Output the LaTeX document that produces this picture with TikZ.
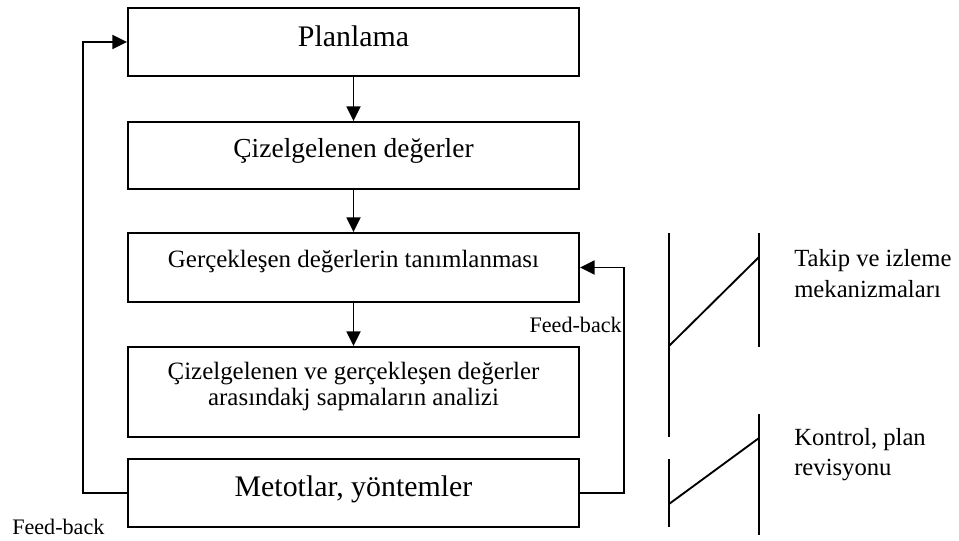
\documentclass[tikz,border=0pt]{standalone}
\usepackage{fontspec}
\setmainfont{Liberation Serif}
\usetikzlibrary{arrows.meta}
\newcommand{\fsz}[1]{\fontsize{#1}{1.15\dimexpr#1\relax}\selectfont}
\begin{document}
\begin{tikzpicture}[x=0.75pt,y=-0.75pt,
  stepbox/.style={draw,line width=1.4pt,minimum width=338.25pt,inner sep=0pt},
  flow/.style={line width=1.4pt,-{Triangle[length=11pt,width=10.5pt]}},
  symline/.style={line width=1.4pt},
  txt/.style={inner sep=0pt,anchor=base}]
\useasboundingbox (0,0) rectangle (959,541);

% process boxes
\node[stepbox,minimum height=51pt]    (B1) at (353.5,42) {};
\node[stepbox,minimum height=50.25pt] (B2) at (353.5,155.5) {};
\node[stepbox,minimum height=51.75pt] (B3) at (353.5,267.5) {};
\node[stepbox,minimum height=67.5pt]  (B4) at (353.5,392) {};
\node[stepbox,minimum height=51pt]    (B5) at (353.5,493) {};

% box texts
\node[txt] (T1)  at (353.5,47)  {\fsz{22.4pt}Planlama};
\node[txt] (T2)  at (353.5,158) {\fsz{20.6pt}Çizelgelenen değerler};
\node[txt] (T3)  at (353.5,268) {\fsz{18.7pt}Gerçekleşen değerlerin tanımlanması};
\node[txt] (T4a) at (353.5,379) {\fsz{18.7pt}Çizelgelenen ve gerçekleşen değerler};
\node[txt] (T4b) at (353.5,405) {\fsz{18.7pt}arasındakj sapmaların analizi};
\node[txt] (T5)  at (353.5,496) {\fsz{22.4pt}Metotlar, yöntemler};

% main flow
\draw[flow] (B1.south) -- (B2.north);
\draw[flow] (B2.south) -- (B3.north);
\draw[flow] (B3.south) -- (B4.north);

% feed-back loops
\coordinate (fbl) at (83,0);
\coordinate (fbr) at (624,0);
\draw[flow] (B5.west) -- (B5.west -| fbl) |- (B1.west);
\draw[flow] (B5.east) -- (B5.east -| fbr) |- (B3.east);
\node[txt,anchor=base east] (FB1) at (622,332) {\fsz{16.6pt}Feed-back};
\node[txt,anchor=base west] (FB2) at (12,534) {\fsz{16.6pt}Feed-back};

% monitoring symbol
\draw[symline] (669,233) -- (669,437);
\draw[symline] (669,346) -- (759,257);
\draw[symline] (759,233) -- (759,347);
% control symbol
\draw[symline] (669,459) -- (669,527);
\draw[symline] (669,504) -- (759,438);
\draw[symline] (759,414) -- (759,535);

% side labels
\node[txt,anchor=base west] (L1a) at (794,267) {\fsz{18.5pt}Takip ve izleme};
\node[txt,anchor=base west] (L1b) at (794,297) {\fsz{18.5pt}mekanizmaları};
\node[txt,anchor=base west] (L2a) at (794,445) {\fsz{18.5pt}Kontrol, plan};
\node[txt,anchor=base west] (L2b) at (794,475) {\fsz{18.5pt}revisyonu};
\end{tikzpicture}
\end{document}
